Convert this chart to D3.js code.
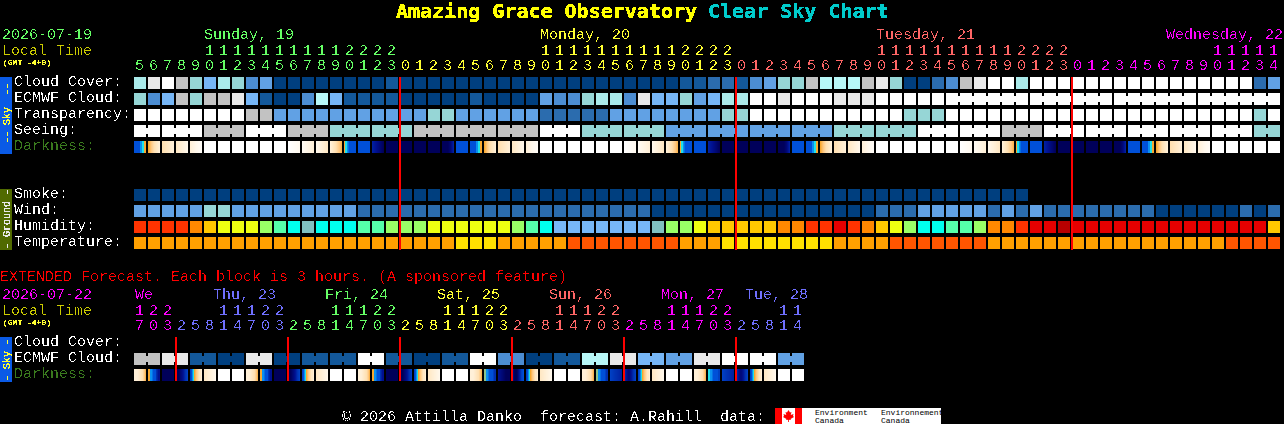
<!DOCTYPE html>
<html><head><meta charset="utf-8">
<script src="https://cdn.jsdelivr.net/npm/d3@7/dist/d3.min.js"></script>
<style>
html,body{margin:0;padding:0;background:#000;overflow:hidden}
svg{display:block}
text{font-family:"Liberation Mono",monospace;font-size:15px;white-space:pre}
</style></head><body><svg id="c" width="1284" height="424"></svg>
<script>
// ---- categories / ticks ----
const mainHours=[5,6,7,8,9,10,11,12,13,14,15,16,17,18,19,20,21,22,23,
 0,1,2,3,4,5,6,7,8,9,10,11,12,13,14,15,16,17,18,19,20,21,22,23,
 0,1,2,3,4,5,6,7,8,9,10,11,12,13,14,15,16,17,18,19,20,21,22,23,
 0,1,2,3,4,5,6,7,8,9,10,11,12,13,14];
const extHours=[17,20,23,2,5,8,11,14,17,20,23,2,5,8,11,14,17,20,23,2,5,8,11,14,17,20,23,2,5,8,11,14,17,20,23,2,5,8,11,14,17,20,23,2,5,8,11,14];
const mainDayNames=["Sunday, 19","Monday, 20","Tuesday, 21","Wednesday, 22"];
const mainDaySpans=[19,24,24,15];
const mainDayLabelCols=[5,29,53,73.72];
const mainDayColors=["#66ff66","#ffff33","#ff6666","#ff00ff"];
const extDayNames=["We","Thu, 23","Fri, 24","Sat, 25","Sun, 26","Mon, 27","Tue, 28"];
const extDaySpans=[3,8,8,8,8,8,5];
const extDayLabelCols=[0.07,5.64,13.64,21.64,29.64,37.64,43.64];
const extDayColors=["#ff00ff","#7070ff","#66ff66","#ffff33","#ff6666","#ff00ff","#7070ff"];
const mainMidnights=[19,43,67];
const extMidnights=[3,11,19,27,35,43];

// ---- series (palette level per block) ----
const cloudCover=[7,10,11,9,6,5,7,6,3,4,0,0,0,0,0,0,0,0,1,0,0,0,0,0,0,0,0,0,0,0,0,0,0,0,0,0,0,0,0,1,1,2,2,1,3,4,6,6,9,8,8,8,9,10,6,0,0,2,3,9,10,11,11,7,11,11,11,11,11,11,11,11,11,11,11,11,11,11,11,11,2,4];
const ecmwfCloud=[6,3,5,9,6,9,9,10,5,1,0,0,3,8,5,1,1,1,1,0,0,0,0,0,1,0,0,0,0,4,3,3,6,7,7,3,10,5,5,6,4,5,7,7,11,11,10,11,11,11,10,10,10,11,11,11,11,11,11,11,11,11,11,11,11,11,11,11,11,11,11,11,11,11,11,11,11,11,11,11,11,11];
const ecmwfSpans=[58,6,6,6,6];
const transparency=[11,11,11,11,11,11,11,11,9,9,4,4,4,4,4,4,4,4,4,4,4,6,6,4,4,4,4,4,4,2,2,2,2,2,4,4,4,4,4,4,4,4,6,6,11,11,11,11,11,11,11,11,11,11,11,6,6,6,11,11,11,11,11,11,11,11,11,11,11,11,11,11,11,11,11,11,11,11,11,11,6,11];
const seeing=[11,11,9,11,9,6,6,9,9,9,11,6,6,4,4,4,4,6,6,11,11,9,11,11,11,11,11,6];
const seeingSpans=[2,3,3,3,3,3,3,3,3,3,3,3,3,3,3,3,3,3,3,3,3,3,3,3,3,3,3,2];
const smoke=[0,0,0,0,0,0,0,0,0,0,0,0,0,0,0,0,0,0,0,0,0,0,0,0,0,0,0,0,0,0,0,0,0,0,0,0,0,0,0,0,0,0,0,0,0,0,0,0,0,0,0,0,0,0,0,0,0,0,0,0,0,0,0,0];
const wind=[4,4,4,4,4,6,6,4,4,4,4,4,4,4,4,4,2,2,2,2,2,2,2,2,2,2,2,2,2,2,2,2,2,2,2,2,2,0,0,0,0,0,0,0,0,0,0,0,0,0,0,0,0,2,2,2,4,4,4,4,4,2,4,2,4,2,2,2,2,2,2,2,2,0,0,0,0,0,0,2,0,2];
const humidity=[2,2,2,2,3,4,5,5,5,6,7,8,9,8,8,8,7,7,6,6,6,5,5,5,5,5,5,6,7,8,10,10,10,10,10,10,10,9,6,6,5,4,4,4,4,4,3,3,2,2,1,2,3,4,5,6,8,8,7,7,6,3,3,2,1,1,0,1,1,1,1,1,1,1,1,1,1,1,1,1,1,4];
const temperature=[1,1,1,1,1,1,1,1,1,1,1,1,1,1,1,1,1,1,1,1,1,1,1,2,2,2,1,1,1,1,1,0,0,0,0,0,0,0,0,1,1,1,2,2,2,2,2,2,2,2,1,1,1,1,0,0,0,0,0,0,0,1,1,1,1,1,1,1,1,1,1,1,1,1,1,1,1,1,0,0,0,0];
const extEcmwf=[9,10,1,0,10,0,1,1,11,1,0,1,11,3,0,1,8,10,5,4,10,11,11,4];
const extEcmwfSpans=[2,2,2,2,2,2,2,2,2,2,2,2,2,2,2,2,2,2,2,2,2,2,2,2];

// darkness samples across one block (0 daylight ... 10 full dark)
const W=[0],N=[10],R=[7];
const dawn=[7,7,7,7,7,7,6,6,5,5,4,4];
const dusk=[4,5,5,6,6.5,7,7,7,7,7,7,7];
const m1=[4,3,2,1.5,1],m2=[2,1.5,1],m3=[1.5,1,.5],m4=[1,.5,.2];
const e1=[0,.4],e2=[.3,1],e3=[.5,1.5],e4=[1,2,3.6];
const nd=[8.5,9,9.5,10],dn=[10,10,10,9.5,8.5];
const darkness=[dawn,m1,m2,m3,m4,W,W,W,W,W,W,e1,e2,e3,e4,dusk,R,nd,N,N,N,N,dn,R,
 dawn,m1,m2,m3,m4,W,W,W,W,W,W,e1,e2,e3,e4,dusk,R,nd,N,N,N,N,dn,R,
 dawn,m1,m2,m3,m4,W,W,W,W,W,W,e1,e2,e3,e4,dusk,R,nd,N,N,N,N,dn,R,
 dawn,m1,m2,m3,m4,W,W,W,W,W];
const xe=[1,1,1.5,2,3.6];
const xd1=[4,4,6,6,6.5,7,7,7,8,8.5,9,9],xd2=[4.5,4.5,6,6,6.5,7,7,7,7,7.5,8,8],xd3=[5,5,6,6,6.5,7,7,7,7,7,7.5,7.5];
const xn1=[10],xn2=[9,9.5,10,10],xn3=[7.5,8,8.5];
const xp1=[10,10,9.5,9,8,7.5],xp2=[9,10,10,9,7.5,7],xp3=[8,9,9.5,9,8,7.5];
const xr=[7.5,7,6,5,4,3.5,3,2.5,2,1.5,1.5,1],xm=[1.5,1,.5];
const extDarkness=[xe,xd1,xn1,xp1,xr,xm,W,W,xe,xd1,xn1,xp1,xr,xm,W,W,xe,xd1,xn1,xp1,xr,xm,W,W,
 xe,xd2,xn2,xp2,xr,xm,W,W,xe,xd2,xn3,xp3,xr,xm,W,W,xe,xd3,xn3,xp3,xr,xm,W,W];

// ---- palettes ----
const cloudColors=["#003f7f","#13589a","#2b6cae","#4c8dd2","#61a1e4","#76b6f6","#96d6d6","#aaeaea","#b7f7f7","#c2c2c2","#e9e9e9","#ffffff"];
const humidityColors=["#b80000","#e60000","#ff3300","#ff8800","#ffc800","#eeff11","#99ff66","#55ffaa","#00ffee","#80c0c0","#77b7f7"];
const tempColors=["#ff5500","#ffa000","#ffe000"];
const darkColors=["#ffffff","#fff0d8","#ffdfb0","#ffc880","#f8a830","#20e0e8","#0a90f0","#0050d8","#0030b0","#001090","#00005a"];

// ---- scales ----
const x=d3.scaleLinear().domain([0,82]).range([134,1282]);
const rowY=d3.scaleOrdinal().domain(["cloud","ecmwf","transp","seeing","dark","smoke","wind","humid","temp","xcloud","xecmwf","xdark"]).range([77,93,109,125,141,189,205,221,237,337,353,369]);
const cloudScale=d3.scaleOrdinal().domain(d3.range(cloudColors.length)).range(cloudColors);
const humidScale=d3.scaleOrdinal().domain(d3.range(humidityColors.length)).range(humidityColors);
const tempScale=d3.scaleOrdinal().domain(d3.range(tempColors.length)).range(tempColors);
const darkScale=d3.scaleLinear().domain(d3.range(darkColors.length)).range(darkColors);
const CELL=x(1)-x(0)-2;

const svg=d3.select("#c");
const defs=svg.append("defs");
function crisp(id,table){
  defs.append("filter").attr("id",id).attr("filterUnits","userSpaceOnUse")
    .attr("x",0).attr("y",0).attr("width",1284).attr("height",424)
    .attr("color-interpolation-filters","sRGB")
    .append("feComponentTransfer").append("feFuncA").attr("type","discrete").attr("tableValues",table);
}
crisp("crisp","0 0 0 1 1");
crisp("crispSmall","0 1 1 1");
const marks=svg.append("g").attr("shape-rendering","crispEdges");
const texts=svg.append("g").attr("filter","url(#crisp)");
const small=svg.append("g").attr("filter","url(#crispSmall)");

function expand(vals,spans){return vals.flatMap((v,i)=>d3.range(spans[i]).map(()=>v));}
function row(key,vals,scale){
  marks.append("g").selectAll("rect").data(vals).join("rect")
    .attr("x",(d,i)=>x(i)).attr("y",rowY(key)).attr("width",CELL).attr("height",CELL)
    .attr("fill",d=>scale(d));
}
function joins(key,vals,spans,scale){
  const j=[];let c=0;
  spans.forEach(s=>{for(let k=0;k<s-1;k++){j.push(c+k);}c+=s;});
  marks.append("g").selectAll("rect").data(j).join("rect")
    .attr("x",i=>x(i)+CELL).attr("y",rowY(key)+3).attr("width",2).attr("height",CELL-6)
    .attr("fill",i=>scale(vals[i]));
}
function darkRow(key,vals){
  const g=marks.append("g");
  vals.forEach((s,i)=>{
    const n=s.length;
    const f=n>1?d3.scaleLinear().domain(d3.range(n).map(k=>k*(CELL-1)/(n-1))).range(s):()=>s[0];
    g.selectAll(null).data(d3.range(CELL)).join("rect")
      .attr("x",k=>x(i)+k).attr("y",rowY(key)).attr("width",1).attr("height",CELL)
      .attr("fill",k=>darkScale(f(k)));
  });
}
const seeingCells=expand(seeing,seeingSpans);
row("cloud",cloudCover,cloudScale);
row("ecmwf",ecmwfCloud,cloudScale);
// the first span holds unjoined hourly cells
joins("ecmwf",ecmwfCloud,d3.range(ecmwfSpans[0]).map(()=>1).concat(ecmwfSpans.slice(1)),cloudScale);
row("transp",transparency,cloudScale);
row("seeing",seeingCells,cloudScale);
joins("seeing",seeingCells,seeingSpans,cloudScale);
darkRow("dark",darkness);
row("smoke",smoke,cloudScale);
row("wind",wind,cloudScale);
row("humid",humidity,humidScale);
row("temp",temperature,tempScale);
const extCells=expand(extEcmwf,extEcmwfSpans);
row("xecmwf",extCells,cloudScale);
joins("xecmwf",extCells,extEcmwfSpans,cloudScale);
darkRow("xdark",extDarkness);

// midnight lines
marks.append("g").selectAll("rect").data(mainMidnights).join("rect")
  .attr("x",d=>x(d)-1).attr("y",rowY("cloud")).attr("width",2).attr("height",rowY("temp")+CELL+1-rowY("cloud")).attr("fill","#ff0000");
marks.append("g").selectAll("rect").data(extMidnights).join("rect")
  .attr("x",d=>x(d)-1).attr("y",rowY("xcloud")).attr("width",2).attr("height",rowY("xdark")+CELL-rowY("xcloud")).attr("fill","#ff0000");

// side bars
marks.append("rect").attr("x",0).attr("y",77).attr("width",12).attr("height",77).attr("fill","#0a5ae6");
marks.append("rect").attr("x",0).attr("y",189).attr("width",12).attr("height",61).attr("fill","#506a00");
marks.append("rect").attr("x",0).attr("y",337).attr("width",12).attr("height",45).attr("fill","#0a5ae6");

function T(s,px,py,col){
  return texts.append("text").attr("x",Math.round(px)).attr("y",py).attr("fill",col).text(s);
}
function rot(s,py,col){
  small.append("text").attr("transform",`translate(10,${py}) rotate(-90)`).attr("fill",col).style("font-size","10px").text(s);
}
rot("-- Sky  --",143,"#ffff33");
rot("- Ground -",249,"#e8e8e8");
rot("- Sky -",381,"#ffff33");

// title
[["Amazing Grace Observatory",396,"#ffff00"],["Clear Sky Chart",708,"#00cccc"]].forEach(([s,a,c])=>{
  small.append("text").attr("x",a).attr("y",18).attr("fill",c)
    .style("font-family","'DejaVu Sans Mono',monospace").style("font-size","20px").style("font-weight","bold").text(s);
});

// header
function header(dateStr,dateCol,y0,hours,names,spans,cols,colors){
  T(dateStr,2,y0,dateCol);
  T("Local Time",2,y0+16,"#cccc00");
  small.append("text").attr("x",3).attr("y",y0+26).attr("fill","#ffff33").style("font-size","8px").text("(GMT -4+0)");
  names.forEach((n,i)=>T(n,x(cols[i]),y0,colors[i]));
  const colorOf=[];spans.forEach((s,i)=>{for(let k=0;k<s;k++)colorOf.push(colors[i]);});
  hours.forEach((h,i)=>{
    const c=colorOf[i],left=x(i)+1;
    if(h>=10)T(String(Math.floor(h/10)),left,y0+16,c);
    T(String(h%10),left,y0+31,c);
  });
}
header("2026-07-19","#66ff66",39,mainHours,mainDayNames,mainDaySpans,mainDayLabelCols,mainDayColors);
header("2026-07-22","#ff00ff",299,extHours,extDayNames,extDaySpans,extDayLabelCols,extDayColors);

// row labels
[["Cloud Cover:","cloud","#fff"],["ECMWF Cloud:","ecmwf","#fff"],["Transparency:","transp","#fff"],["Seeing:","seeing","#fff"],["Darkness:","dark","#3a7a1e"],
 ["Smoke:","smoke","#fff"],["Wind:","wind","#fff"],["Humidity:","humid","#fff"],["Temperature:","temp","#fff"],
 ["Cloud Cover:","xcloud","#fff"],["ECMWF Cloud:","xecmwf","#fff"],["Darkness:","xdark","#3a7a1e"]]
 .forEach(([s,k,c])=>T(s,14,rowY(k)+9,c));

T("EXTENDED Forecast. Each block is 3 hours. (A sponsored feature)",0,281,"#ff0000");
T("\u00a9 2026 Attilla Danko  forecast: A.Rahill  data:",342,420.5,"#ffffff");

// sponsor logo
const logo=svg.append("g");
logo.append("rect").attr("x",775).attr("y",408).attr("width",166).attr("height",16).attr("fill","#fff");
logo.append("rect").attr("x",775).attr("y",408).attr("width",7).attr("height",16).attr("fill","#f00");
logo.append("rect").attr("x",795).attr("y",408).attr("width",7).attr("height",16).attr("fill","#f00");
logo.append("path").attr("transform","translate(788.5,416)").attr("fill","#f00")
  .attr("d","M0,-6 L1.5,-3.5 L3,-4 L2.2,-1 L5,-2 L4.5,0 L5.5,1 L2,3 L2.5,4 L.4,3.8 L.4,6 L-.4,6 L-.4,3.8 L-2.5,4 L-2,3 L-5.5,1 L-4.5,0 L-5,-2 L-2.2,-1 L-3,-4 L-1.5,-3.5 Z");
[["Environment",815,415],["Canada",815,423],["Environnement",881,415],["Canada",881,423]].forEach(([s,a,b])=>{
  logo.append("text").attr("x",a).attr("y",b).attr("fill","#000").style("font-size","8px").text(s);
});
</script></body></html>
